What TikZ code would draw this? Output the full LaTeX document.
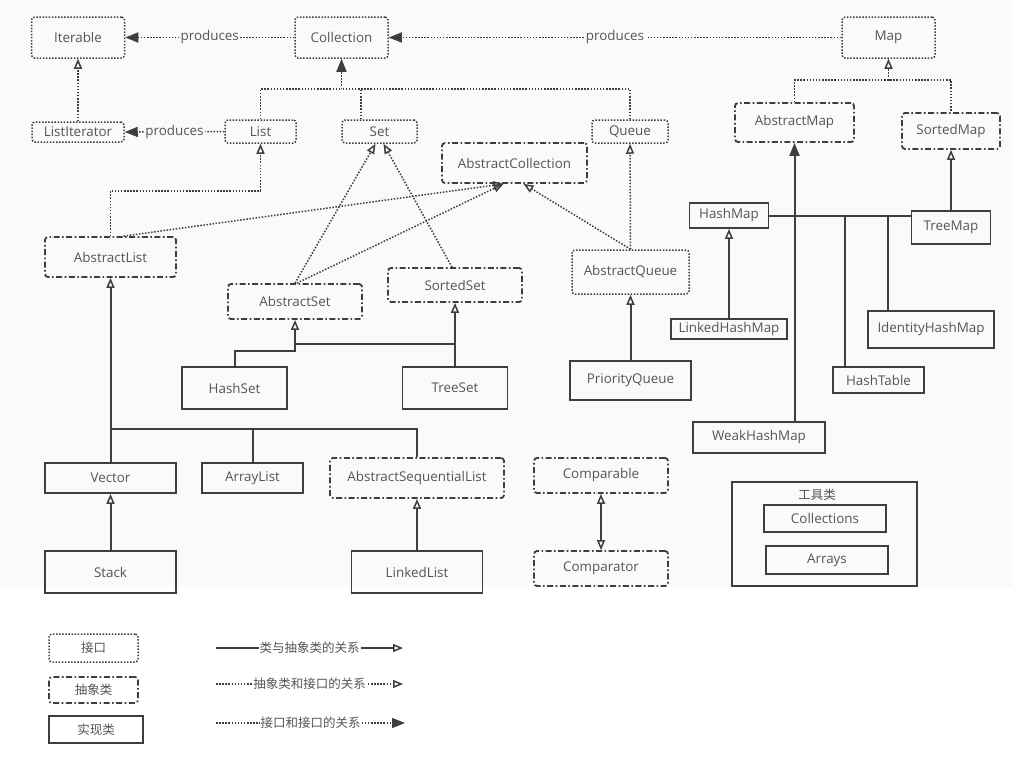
\documentclass[tikz,border=0pt]{standalone}
\usepackage{fontspec}
\setmainfont{Open Sans}
\newfontfamily\cjk{Noto Sans CJK SC}
\usetikzlibrary{arrows.meta,calc}
\definecolor{lc}{HTML}{3E3E3E}
\definecolor{tc}{HTML}{555555}
\definecolor{bgc}{HTML}{FAFAFA}
\begin{document}
\begin{tikzpicture}[x=1pt,y=-1pt,
  every node/.style={inner sep=0pt, text=tc, font=\fontsize{13.4}{15}\selectfont},
  sz/.style 2 args={minimum width=#1, minimum height=#2},
  intf/.style={draw=lc, line width=1.5pt, dash pattern=on 1.5pt off 1.6pt, rounded corners=3pt},
  abst/.style={draw=lc, line width=1.8pt, dash pattern=on 6pt off 2.5pt on 1.6pt off 2.5pt, rounded corners=3pt},
  impl/.style={draw=lc, line width=1.8pt},
  dline/.style={draw=lc, line width=1.5pt, dash pattern=on 1.5pt off 1.6pt},
  sline/.style={draw=lc, line width=2pt},
  oarr/.style={-{Triangle[open,length=10pt,width=8pt,line width=1.5pt]}},
  farr/.style={-{Triangle[length=13pt,width=10pt]}},
  lbl/.style={fill=bgc, inner xsep=1.5pt, inner ysep=1pt},
  cn/.style={font=\cjk\fontsize{12.5}{14}\selectfont},
  lbl2/.style={fill=white, inner xsep=1pt, inner ysep=1pt, font=\cjk\fontsize{12.5}{14}\selectfont}
]
\useasboundingbox (0,0) rectangle (1024,758);
\fill[white] (0,0) rectangle (1024,758);
\fill[bgc] (0,0) rectangle (1012,587);

% interfaces
\node[intf, sz={93}{41}] (Iterable) at (78,37.5) {Iterable};
\node[intf, sz={93}{41}] (Collection) at (341.5,37.5) {Collection};
\node[intf, sz={93}{41}] (Map) at (888.5,37.5) {Map};
\node[intf, sz={92}{20}] (ListIterator) at (78,132) {ListIterator};
\node[intf, sz={71}{23}] (List) at (260.5,131.5) {List};
\node[intf, sz={75}{23}] (Set) at (379.5,131.5) {Set};
\node[intf, sz={76}{23}] (Queue) at (630,131.5) {Queue};
\node[intf, sz={117}{44}] (AbstractQueue) at (630.5,272) {AbstractQueue};

% abstract classes
\node[abst, sz={145}{40}] (AbstractCollection) at (514.5,163) {AbstractCollection};
\node[abst, sz={119}{39}] (AbstractMap) at (794.5,122.5) {AbstractMap};
\node[abst, sz={98}{36}] (SortedMap) at (951,131) {SortedMap};
\node[abst, sz={131}{40}] (AbstractList) at (110.5,257) {AbstractList};
\node[abst, sz={134}{35}] (AbstractSet) at (295,301.5) {AbstractSet};
\node[abst, sz={134}{34}] (SortedSet) at (455,285) {SortedSet};
\node[abst, sz={174}{40}] (AbstractSequentialList) at (417,478) {AbstractSequentialList};
\node[abst, sz={134}{35}] (Comparable) at (601,475.5) {Comparable};
\node[abst, sz={134}{35}] (Comparator) at (601,568.5) {Comparator};

% implementations
\node[impl, sz={105}{42}] (HashSet) at (234.5,388) {HashSet};
\node[impl, sz={105}{42}] (TreeSet) at (455,388) {TreeSet};
\node[impl, sz={121}{39}] (PriorityQueue) at (630.5,380.5) {PriorityQueue};
\node[impl, sz={79}{25}] (HashMap) at (729,215.5) {HashMap};
\node[impl, sz={79}{33}] (TreeMap) at (951,227.5) {TreeMap};
\node[impl, sz={116}{20}] (LinkedHashMap) at (729,329) {LinkedHashMap};
\node[impl, sz={126}{37}] (IdentityHashMap) at (931,329.5) {IdentityHashMap};
\node[impl, sz={91}{26}] (HashTable) at (878.5,380) {HashTable};
\node[impl, sz={132}{31}] (WeakHashMap) at (759,437.5) {WeakHashMap};
\node[impl, sz={131}{30}] (Vector) at (110.5,478) {Vector};
\node[impl, sz={101}{30}] (ArrayList) at (252.5,478) {ArrayList};
\node[impl, sz={131}{42}] (Stack) at (110.5,572) {Stack};
\node[impl, sz={131}{42}] (LinkedList) at (417,572) {LinkedList};

% tools
\node[impl, sz={185}{104}] (Tools) at (824.5,534) {};
\node[cn] (ToolsLbl) at (817,495) {工具类};
\node[impl, sz={122}{27}] (Collections) at (825,518.5) {Collections};
\node[impl, sz={122}{28}] (Arrays) at (827,560) {Arrays};

% produces
\draw[dline, farr] (Collection.west) -- node[lbl] {produces} (Iterable.east);
\draw[dline, farr] (Map.west) -- node[lbl] {produces} (Collection.east);
\draw[dline, farr] (List.west) -- node[lbl] {produces} (ListIterator.east);
\draw[dline, oarr] (ListIterator.north) -- (Iterable.south);

% Collection tree
\coordinate (cj) at (341.5,89);
\coordinate (setj) at (361,89);
\draw[dline] (List.north) |- (cj);
\draw[dline] (Queue.north) |- (cj);
\draw[dline] (setj |- Set.north) -- (setj);
\draw[dline, farr] (cj) -- (Collection.south);

% Map tree
\coordinate (mj) at (888.5,80);
\draw[dline] (AbstractMap.north) |- (mj) -| (SortedMap.north);
\draw[dline, oarr] (mj) -- (Map.south);

% AbstractList
\draw[dline, oarr] (AbstractList.north) |- ($(List.south)+(0,47)$) -- (List.south);
\draw[dline, oarr] ($(AbstractList.north)+(13,0)$) -- ($(AbstractCollection.south)+(-11,0)$);
\draw[dline, oarr] ($(AbstractSet.north)+(2,0)$) -- ($(AbstractCollection.south)+(-11,0)$);
\draw[dline, oarr] (AbstractQueue.north) -- ($(AbstractCollection.south)+(9,0)$);
\draw[dline, oarr] (AbstractSet.north) -- ($(Set.south)+(-4,0)$);
\draw[dline, oarr] ($(SortedSet.north)+(-3,0)$) -- ($(Set.south)+(4,0)$);
\draw[dline, oarr] (AbstractQueue.north) -- (Queue.south);
\draw[sline, oarr] (PriorityQueue.north) -- (AbstractQueue.south);

% sets
\coordinate (hsj) at (295,351);
\coordinate (tsj) at (295,344);
\draw[sline, oarr] (HashSet.north) |- (hsj) -- (AbstractSet.south);
\draw[sline] (TreeSet.north |- tsj) -- (tsj);
\draw[sline, oarr] (TreeSet.north) -- (SortedSet.south);

% lists
\coordinate (lj) at (110.5,429);
\draw[sline, oarr] (lj) -- (AbstractList.south);
\draw[sline] (Vector.north) -- (lj);
\draw[sline] (ArrayList.north) |- (lj);
\draw[sline] (AbstractSequentialList.north) |- (lj);
\draw[sline, oarr] (Stack.north) -- (Vector.south);
\draw[sline, oarr] (LinkedList.north) -- (AbstractSequentialList.south);

% comparators
\draw[sline, {Triangle[open,length=10pt,width=8pt,line width=1.5pt]}-{Triangle[open,length=10pt,width=8pt,line width=1.5pt]}] (Comparator.north) -- (Comparable.south);

% maps
\coordinate (htc) at ($(HashTable.north west)+(13,0)$);
\coordinate (ihc) at ($(IdentityHashMap.north west)+(21,0)$);
\draw[sline, farr] (WeakHashMap.north -| AbstractMap.south) -- (AbstractMap.south);
\draw[sline] (HashMap.east) -- (TreeMap.west |- HashMap.east);
\draw[sline] (htc) -- (htc |- HashMap.east);
\draw[sline] (ihc) -- (ihc |- HashMap.east);
\draw[sline, oarr] (TreeMap.north) -- (SortedMap.south);
\draw[sline, oarr] (LinkedHashMap.north) -- (HashMap.south);

% legend
\node[intf, sz={89}{28}, cn] (LIntf) at (93.5,648) {接口};
\node[abst, sz={89}{26}, cn] (LAbst) at (93.5,690) {抽象类};
\node[impl, sz={94}{27}, cn] (LImpl) at (96,729.5) {实现类};
\coordinate (a1) at (216,648); \coordinate (b1) at (403,648);
\coordinate (a2) at (216,684); \coordinate (b2) at (403,684);
\coordinate (a3) at (216,723); \coordinate (b3) at (405,723);
\draw[sline, line width=1.5pt, oarr] (a1) -- node[lbl2] {类与抽象类的关系} (b1);
\draw[dline, oarr] (a2) -- node[lbl2] {抽象类和接口的关系} (b2);
\draw[dline, farr] (a3) -- node[lbl2] {接口和接口的关系} (b3);
\end{tikzpicture}
\end{document}
